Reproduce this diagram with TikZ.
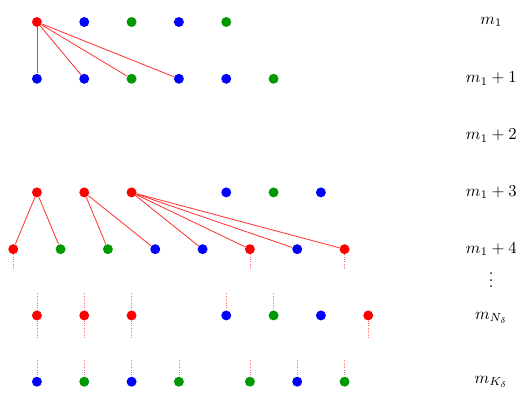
\documentclass[tikz,border=0pt]{standalone}
\usepackage{xcolor}
\usepackage{amsmath}
\usepackage{tikz}

\colorlet{vgreen}{green!60!black}

\begin{document}
\begin{tikzpicture}[
    pt/.style={circle, fill=#1, inner sep=0pt, minimum size=2.1mm},
    link/.style={red!80, line width=0.5pt},
    stub/.style={red!60, densely dotted, line width=0.4pt},
    rot/.style={inner sep=0pt}
]

    % Moldura
    \useasboundingbox (-0.78,0.465) rectangle (10.27,-8.18);

    % Linha m_1
    \foreach \x/\c [count=\i] in {0/red,1/blue,2/vgreen,3/blue,4/vgreen}
        \node[pt=\c] (a\i) at (\x,0) {};

    % Linha m_1+1
    \foreach \x/\c [count=\i] in {0/blue,1/blue,2/vgreen,3/blue,4/blue,5/vgreen}
        \node[pt=\c] (b\i) at (\x,-1.2) {};

    % Linha m_1+3
    \foreach \x/\c [count=\i] in {0/red,1/red,2/red,4/blue,5/vgreen,6/blue}
        \node[pt=\c] (d\i) at (\x,-3.6) {};

    % Linha m_1+4
    \foreach \x/\c [count=\i] in {-0.5/red,0.5/vgreen,1.5/vgreen,2.5/blue,3.5/blue,4.5/red,5.5/blue,6.5/red}
        \node[pt=\c] (e\i) at (\x,-4.8) {};

    % Linha m_{N_delta}
    \foreach \x/\c [count=\i] in {0/red,1/red,2/red,4/blue,5/vgreen,6/blue,7/red}
        \node[pt=\c] (n\i) at (\x,-6.2) {};

    % Linha m_{K_delta}
    \foreach \x/\c [count=\i] in {0/blue,1/vgreen,2/blue,3/vgreen,4.5/vgreen,5.5/blue,6.5/vgreen}
        \node[pt=\c] (k\i) at (\x,-7.6) {};

    % Ligacoes
    \foreach \j in {1,...,4}
        \draw[link] (a1) -- (b\j);
    \foreach \j in {1,2}
        \draw[link] (d1) -- (e\j);
    \foreach \j in {3,4}
        \draw[link] (d2) -- (e\j);
    \foreach \j in {5,...,8}
        \draw[link] (d3) -- (e\j);

    % Tracos pontilhados
    \foreach \j in {1,6,8} {
        \coordinate (eb\j) at ([yshift=-0.45cm]e\j.center);
        \draw[stub] (e\j) -- (eb\j);
    }
    \foreach \j in {1,2,3,4,5} {
        \coordinate (nt\j) at ([yshift=0.47cm]n\j.center);
        \draw[stub] (nt\j) -- (n\j);
    }
    \foreach \j in {1,2,3,7} {
        \coordinate (nb\j) at ([yshift=-0.47cm]n\j.center);
        \draw[stub] (n\j) -- (nb\j);
    }
    \foreach \j in {1,...,7} {
        \coordinate (kt\j) at ([yshift=0.45cm]k\j.center);
        \draw[stub] (kt\j) -- (k\j);
    }

    % Rotulos
    \node[rot] (l1) at (9.6,0) {$m_1$};
    \node[rot] (l2) at (9.6,-1.2) {$m_1+1$};
    \node[rot] (l3) at (9.6,-2.4) {$m_1+2$};
    \node[rot] (l4) at (9.6,-3.6) {$m_1+3$};
    \node[rot] (l5) at (9.6,-4.8) {$m_1+4$};
    \node[rot] (l6) at (9.6,-5.62) {$\smash{\vdots}$};
    \node[rot] (l7) at (9.6,-6.25) {$m_{N_\delta}$};
    \node[rot] (l8) at (9.6,-7.6) {$m_{K_\delta}$};

\end{tikzpicture}
\end{document}
